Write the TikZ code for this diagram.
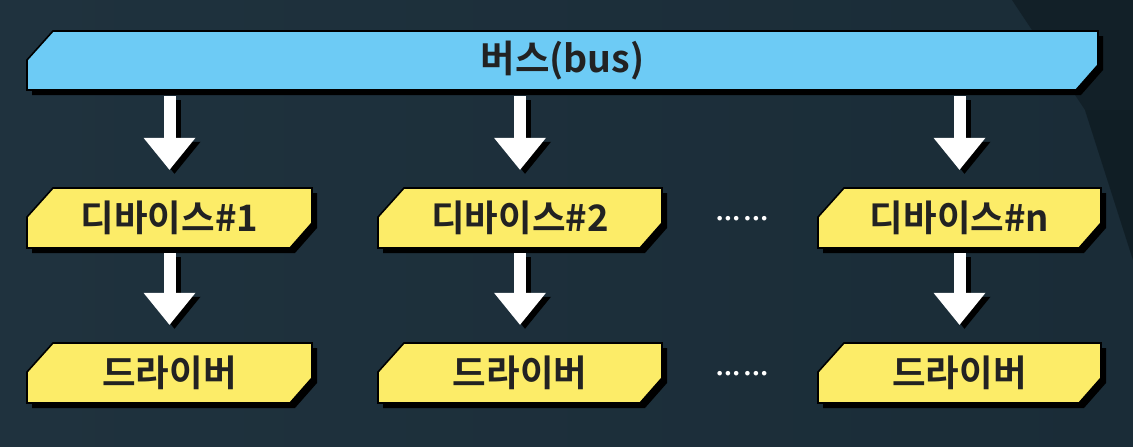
\documentclass[tikz,border=0pt]{standalone}
\usepackage{fontspec}
\newfontfamily\krb{Noto Sans CJK KR Bold}
\newfontfamily\dv{DejaVu Sans Bold}
\usetikzlibrary{arrows.meta}
\definecolor{bgA}{HTML}{1F323E}
\definecolor{bgB}{HTML}{1A2C37}
\definecolor{bgDark}{HTML}{0F1B22}
\definecolor{busblue}{HTML}{6DCBF5}
\definecolor{devyellow}{HTML}{FCEC68}
\definecolor{txt}{HTML}{222222}
\tikzset{
  boxline/.style={draw=black, line width=1.6pt, line join=miter},
  boxshadow/.style={fill=black},
  lbl/.style={inner sep=0pt, text=txt, font=\krb\fontsize{36.5}{36.5}\selectfont},
  buslbl/.style={inner sep=0pt, text=txt, font=\krb\fontsize{37.5}{37.5}\selectfont},
  arr/.style={draw=white, line width=12pt, -{Triangle[width=52pt,length=32pt,line width=0pt]}},
  arrsh/.style={draw=black, line width=12pt, -{Triangle[width=52pt,length=32pt,line width=0pt]}},
  dotlbl/.style={inner sep=0pt, text=white, font=\dv\fontsize{13}{13}\selectfont}
}
% #1 name, #2 x1, #3 y1, #4 x2, #5 y2, #6 fill, #7 label style, #8 text
\newcommand\chbox[8]{%
  \fill[boxshadow] ({#2+26+5},{#3+5}) -- ({#4+5},{#3+5}) -- ({#4+5},{#5-25+5}) -- ({#4-22+5},{#5+5}) -- ({#2+5},{#5+5}) -- ({#2+5},{#3+29+5}) -- cycle;
  \path[boxline, fill=#6] ({#2+26},{#3}) -- ({#4},{#3}) -- ({#4},{#5-25}) -- ({#4-22},{#5}) -- ({#2},{#5}) -- ({#2},{#3+29}) -- cycle;
  \node[#7, minimum width={#4-#2}, minimum height={#5-#3}] (#1) at ({(#2+#4)/2},{(#3+#5)/2}) {#8};
}
\begin{document}
\begin{tikzpicture}[x=1pt,y=-1pt]
\useasboundingbox (0,0) rectangle (1133,447);
\shade[left color=bgA, right color=bgB] (0,0) rectangle (1133,447);
\fill[bgDark, opacity=0.7] (1012,0) -- (1133,0) -- (1133,260) -- (1085,110) -- cycle;
\fill[bgDark, opacity=0.35] (1085,110) -- (1133,260) -- (1133,110) -- cycle;

\chbox{bus}{27}{31}{1098}{90}{busblue}{buslbl}{버스(bus)}
\chbox{d1}{27}{188}{312}{248}{devyellow}{lbl}{디바이스\#1}
\chbox{d2}{378}{188}{662}{248}{devyellow}{lbl}{디바이스\#2}
\chbox{dn}{818}{188}{1101}{248}{devyellow}{lbl}{디바이스\#n}
\chbox{r1}{27}{343}{312}{403}{devyellow}{lbl}{드라이버}
\chbox{r2}{378}{343}{662}{403}{devyellow}{lbl}{드라이버}
\chbox{rn}{818}{343}{1101}{403}{devyellow}{lbl}{드라이버}

\node[dotlbl] (dots1) at (742,220) {•••\hspace{3pt}•••};
\node[dotlbl] (dots2) at (742,375) {•••\hspace{3pt}•••};

\foreach \i in {1,2,n}{
  \draw[arrsh] ([xshift=5pt,yshift=-10pt]bus.south -| d\i.center) -- ([xshift=5pt,yshift=14pt]d\i.north);
  \draw[arr] ([yshift=-6pt]bus.south -| d\i.center) -- ([yshift=18pt]d\i.north);
  \draw[arrsh] ([xshift=5pt,yshift=-9pt]d\i.south) -- ([xshift=5pt,yshift=14pt]r\i.north);
  \draw[arr] ([yshift=-5pt]d\i.south) -- ([yshift=18pt]r\i.north);
}
\end{tikzpicture}
\end{document}
